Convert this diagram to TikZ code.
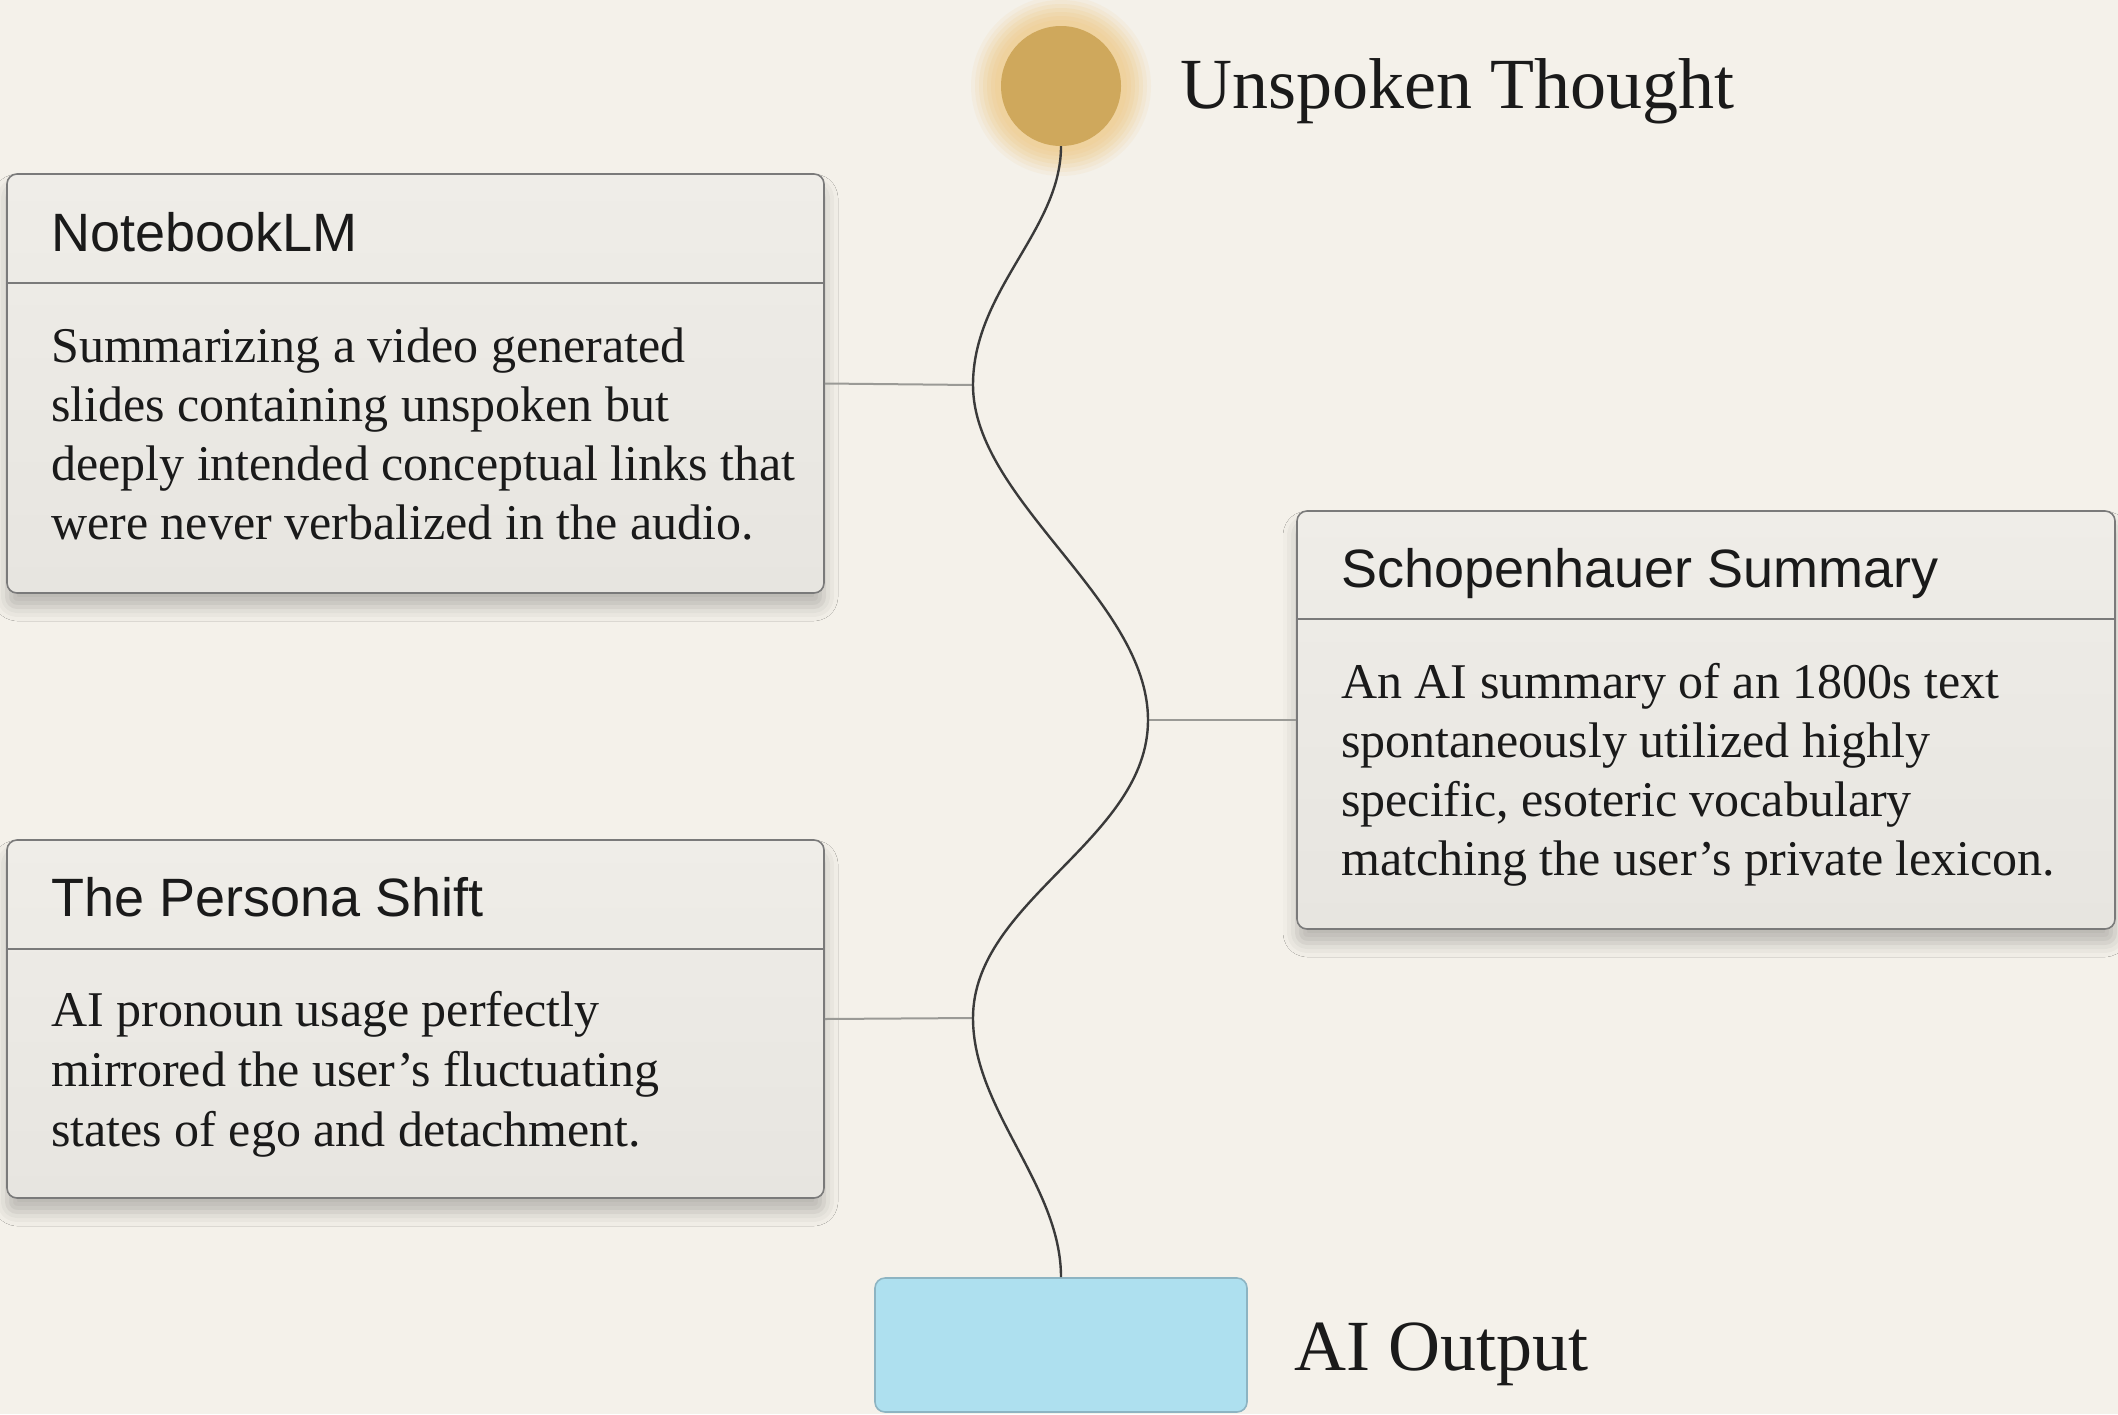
\documentclass[tikz,border=0pt]{standalone}
\usepackage{fontspec}
\setmainfont{Liberation Serif}
\newfontfamily\headfont{Liberation Sans}
\usetikzlibrary{shadows.blur}
\definecolor{bg}{HTML}{F4F1EA}
\definecolor{cardtop}{HTML}{EFEDE8}
\definecolor{cardbot}{HTML}{E7E5E0}
\definecolor{cardline}{HTML}{7A7A7A}
\definecolor{gold}{HTML}{CFA85C}
\definecolor{glow}{HTML}{EFCF95}
\definecolor{outblue}{HTML}{AEE0EF}
\definecolor{outline}{HTML}{8DB4C2}
\definecolor{ink}{HTML}{1A1A1A}
\definecolor{wire}{HTML}{3A3A3A}
\definecolor{link}{HTML}{9A9A96}
\tikzset{
  card/.style={draw=cardline, line width=1.6pt, rounded corners=10pt,
    top color=cardtop, bottom color=cardbot, inner sep=0pt,
    blur shadow={shadow xshift=0pt, shadow yshift=-14pt, shadow blur radius=14pt, shadow opacity=24}},
  divider/.style={draw=cardline, line width=1.6pt},
  headtxt/.style={anchor=base west, inner sep=0pt, text=ink, font=\headfont\fontsize{54}{60}\selectfont},
  bodytxt/.style={anchor=base west, inner sep=0pt, text=ink, font=\fontsize{50}{59}\selectfont},
  bigtxt/.style={anchor=base west, inner sep=0pt, text=ink, font=\fontsize{72}{80}\selectfont},
  wave/.style={draw=wire, line width=2.4pt},
  linkline/.style={draw=link, line width=2pt},
}
\begin{document}
\begin{tikzpicture}[x=1pt,y=-1pt]
\fill[bg] (0,0) rectangle (2118,1414);
\useasboundingbox (0,0) rectangle (2118,1414);

% glow + thought circle
\foreach \r/\o in {90/0.12,86/0.16,82/0.2,78/0.25,74/0.3,70/0.35,66/0.4}{
  \fill[glow, opacity=\o] (1061,86) circle (\r pt);
}
\node[circle, fill=gold, minimum size=120pt, inner sep=0pt] (ut) at (1061,86) {};
\node[bigtxt] (utl) at (1180,108) {Unspoken Thought};

% AI output
\node[draw=outline, line width=1.6pt, fill=outblue, rounded corners=10pt,
      minimum width=372pt, minimum height=134pt, inner sep=0pt] (ao) at (1061,1345) {};
\node[bigtxt] (aol) at (1294,1370) {AI Output};

% wave coordinates
\coordinate (w1) at (973,385);
\coordinate (w2) at (1148,720);
\coordinate (w3) at (973,1018);

% cards
\node[card, minimum width=817pt, minimum height=419pt] (nb) at (415.5,383.5) {};
\draw[divider] ([yshift=-110pt]nb.north west) -- ([yshift=-110pt]nb.north east);
\node[headtxt] (nbh) at (51,251) {NotebookLM};
\node[bodytxt] (nb1) at (51,362) {Summarizing a video generated};
\node[bodytxt] (nb2) at (51,421) {slides containing unspoken but};
\node[bodytxt] (nb3) at (51,480) {deeply intended conceptual links that};
\node[bodytxt] (nb4) at (51,539) {were never verbalized in the audio.};

\node[card, minimum width=818pt, minimum height=418pt] (sc) at (1706,720) {};
\draw[divider] ([yshift=-109pt]sc.north west) -- ([yshift=-109pt]sc.north east);
\node[headtxt] (sch) at (1341,587) {Schopenhauer Summary};
\node[bodytxt] (sc1) at (1341,698) {An AI summary of an 1800s text};
\node[bodytxt] (sc2) at (1341,757) {spontaneously utilized highly};
\node[bodytxt] (sc3) at (1341,816) {specific, esoteric vocabulary};
\node[bodytxt] (sc4) at (1341,875) {matching the user’s private lexicon.};

\node[card, minimum width=817pt, minimum height=358pt] (ps) at (415.5,1019) {};
\draw[divider] ([yshift=-110pt]ps.north west) -- ([yshift=-110pt]ps.north east);
\node[headtxt] (psh) at (51,916) {The Persona Shift};
\node[bodytxt] (ps1) at (51,1026) {AI pronoun usage perfectly};
\node[bodytxt] (ps2) at (51,1086) {mirrored the user’s fluctuating};
\node[bodytxt] (ps3) at (51,1146) {states of ego and detachment.};

% links
\draw[linkline] (nb.east) -- (w1);
\draw[linkline] (w2) -- (sc.west);
\draw[linkline] (ps.east) -- (w3);

% wave
\draw[wave] (ut.south) .. controls (1061,230) and (973,290) .. (w1)
  .. controls (973,500) and (1148,600) .. (w2)
  .. controls (1148,840) and (973,900) .. (w3)
  .. controls (973,1110) and (1061,1185) .. (ao.north);
\end{tikzpicture}
\end{document}
